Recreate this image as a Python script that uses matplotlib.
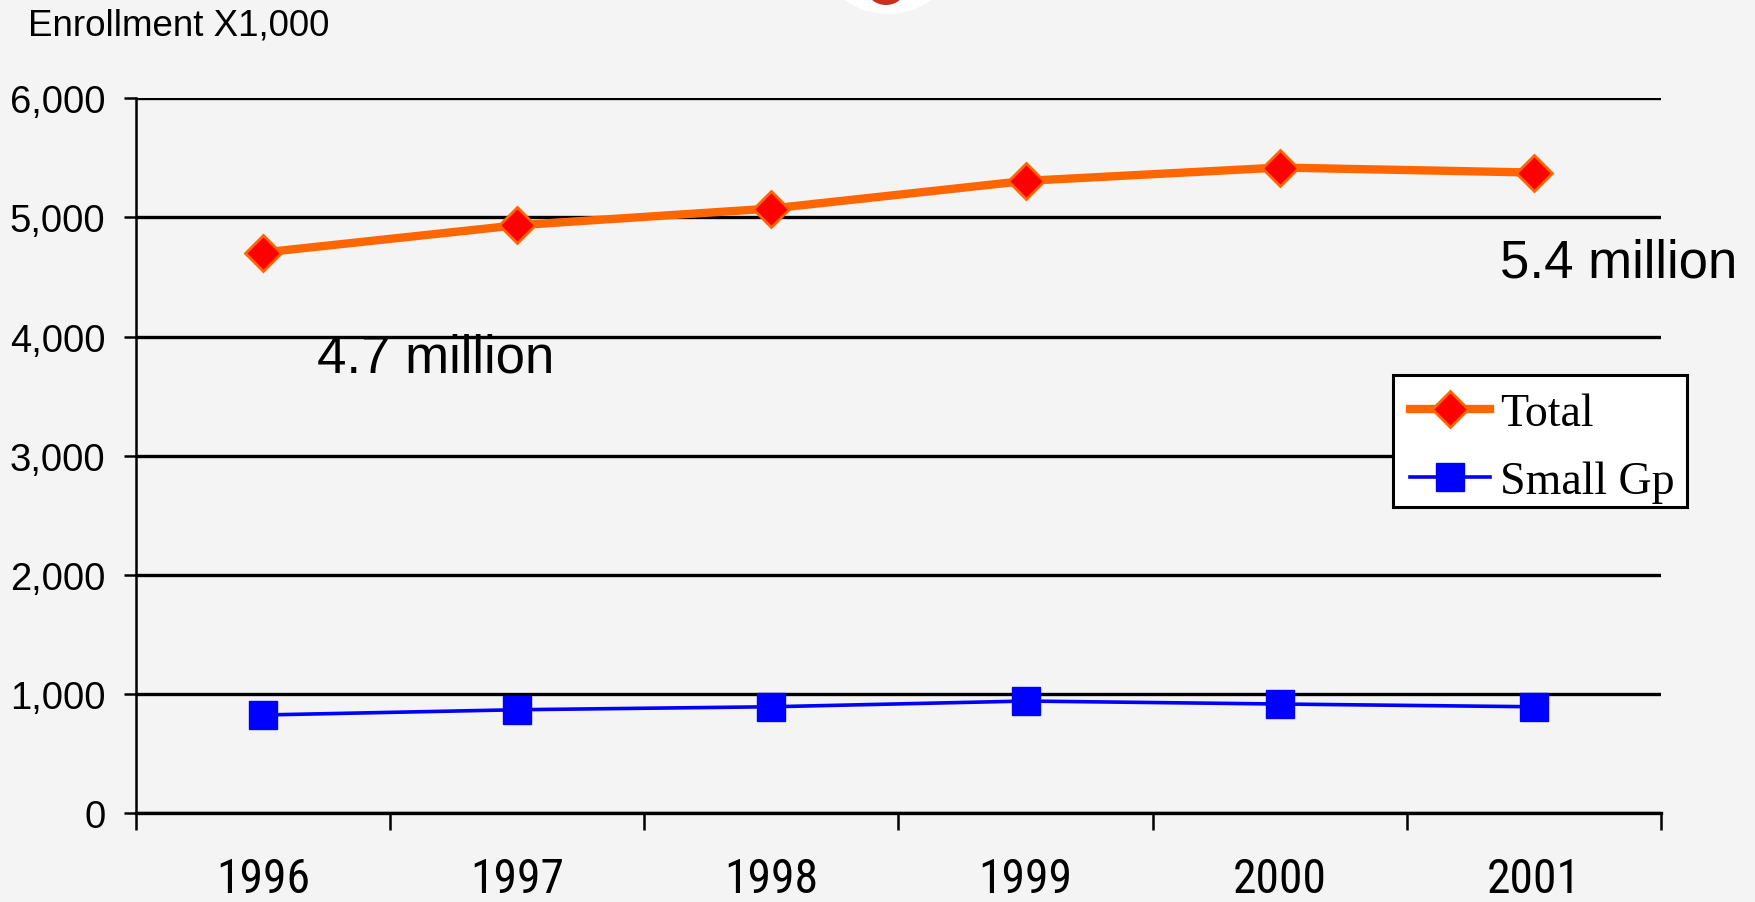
import matplotlib
matplotlib.use("Agg")
import matplotlib.pyplot as plt
from matplotlib import font_manager
from matplotlib.font_manager import FontProperties
from matplotlib.patches import Ellipse, Rectangle

years = ["1996", "1997", "1998", "1999", "2000", "2001"]
total = [4706, 4935, 5075, 5307, 5419, 5377]
small_gp = [825, 869, 894, 942, 917, 894]
y_ticks = [0, 1000, 2000, 3000, 4000, 5000, 6000]
y_labels = ["0", "1,000", "2,000", "3,000", "4,000", "5,000", "6,000"]

flist = font_manager.fontManager.ttflist
names = {f.name for f in flist}
sans = "Liberation Sans" if "Liberation Sans" in names else "DejaVu Sans"
serif = "Liberation Serif" if "Liberation Serif" in names else "DejaVu Serif"


def find_narrow():
    def regular(f):
        return f.style == "normal" and f.weight in (400, "normal", "regular", "book")
    prefs = ["Liberation Sans Narrow", "Roboto Condensed", "Open Sans Condensed",
             "Noto Sans Condensed", "DejaVu Sans Condensed"]
    for p in prefs:
        for f in flist:
            if f.name == p and regular(f):
                return f.fname
    for f in flist:
        if regular(f) and str(f.stretch) in ("condensed", "semi-condensed", "extra-condensed") \
                and "Mono" not in f.name and "Serif" not in f.name:
            return f.fname
    for f in flist:
        if regular(f) and ("Narrow" in f.name or "Condensed" in f.name) and "Mono" not in f.name:
            return f.fname
    return None


narrow_path = find_narrow()

W, H = 1756, 903
fig = plt.figure(figsize=(W / 100, H / 100), dpi=100)
fig.patch.set_facecolor("#f4f4f4")

# logo fragment at top
fig.patches.append(Ellipse((888 / W, 1 + 60 / H), 150 / W, 150 / H,
                           transform=fig.transFigure, facecolor="white",
                           edgecolor="none", zorder=0))
fig.patches.append(Ellipse((886 / W, 1 + 10 / H), 38 / W, 32 / H,
                           transform=fig.transFigure, facecolor="#c8301e",
                           edgecolor="none", zorder=0))

ax = fig.add_axes([136 / W, 1 - 814.3 / H, (1661 - 136) / W, (814.3 - 99.3) / H])
ax.set_facecolor("none")

x = list(range(len(years)))
ax.plot(x, total, color="#ff6600", lw=6, marker="D", ms=18,
        markerfacecolor="#ff0000", markeredgecolor="#ff6600", mew=2,
        label="Total", zorder=4, clip_on=False)
ax.plot(x, small_gp, color="#0000ff", lw=2.6, marker="s", ms=20,
        markerfacecolor="#0000ff", markeredgecolor="#0000ff", mew=1,
        label="Small Gp", zorder=4, clip_on=False)

ax.set_xlim(-0.5, len(years) - 0.5)
ax.set_ylim(0, 6000)

for v in y_ticks:
    ax.axhline(v, color="black", lw=2.4, zorder=1)

for s in ["top", "right"]:
    ax.spines[s].set_visible(False)
ax.spines["left"].set_linewidth(1.8)
ax.spines["bottom"].set_linewidth(2.4)

ax.set_yticks(y_ticks)
ax.set_yticklabels(y_labels, fontsize=27.5, family=sans)
ax.tick_params(axis="y", length=9, width=1.8, pad=13, direction="out")

ax.set_xticks([i - 0.5 for i in range(len(years) + 1)])
ax.set_xticklabels([""] * (len(years) + 1))
ax.tick_params(axis="x", which="major", length=12, width=1.8, direction="out")
ax.set_xticks(x, minor=True)
if narrow_path:
    xfp = FontProperties(fname=narrow_path, size=39)
else:
    xfp = FontProperties(family=sans, size=31)
ax.set_xticklabels(years, minor=True, fontproperties=xfp)
ax.tick_params(axis="x", which="minor", length=0, pad=31)

# fit the year labels to the reference width (~94 px for "1996")
fig.canvas.draw()
lab = ax.get_xticklabels(minor=True)[0]
wpx = lab.get_window_extent().width
if wpx > 0:
    newsize = xfp.get_size() * 94.0 / wpx
    for t in ax.get_xticklabels(minor=True):
        t.set_fontsize(newsize)

fig.text(28 / W, 1 - 35 / H, "Enrollment X1,000", fontsize=26.5, family=sans,
         ha="left", va="baseline")

ax.text(0.211, 3705, "4.7 million", fontsize=38, family=sans,
        ha="left", va="baseline", zorder=5)
ax.text(4.866, 4507, "5.4 million", fontsize=38, family=sans,
        ha="left", va="baseline", zorder=5, clip_on=False)

# legend box
box = Rectangle((1393 / W, 1 - 508 / H), (1687 - 1393) / W, (508 - 376) / H,
                transform=fig.transFigure, facecolor="white", edgecolor="black",
                linewidth=2.2, zorder=5.5, clip_on=False)
ax.add_patch(box)

leg = ax.legend(loc="upper left", bbox_to_anchor=(1410 / W, 1 - 394 / H),
                bbox_transform=fig.transFigure, borderaxespad=0,
                prop={"family": serif, "size": 33}, frameon=False,
                handlelength=1.75, handletextpad=0.22,
                borderpad=0, labelspacing=0.55)
leg.set_zorder(6)

fig.savefig("out.png", dpi=100, facecolor=fig.get_facecolor())
